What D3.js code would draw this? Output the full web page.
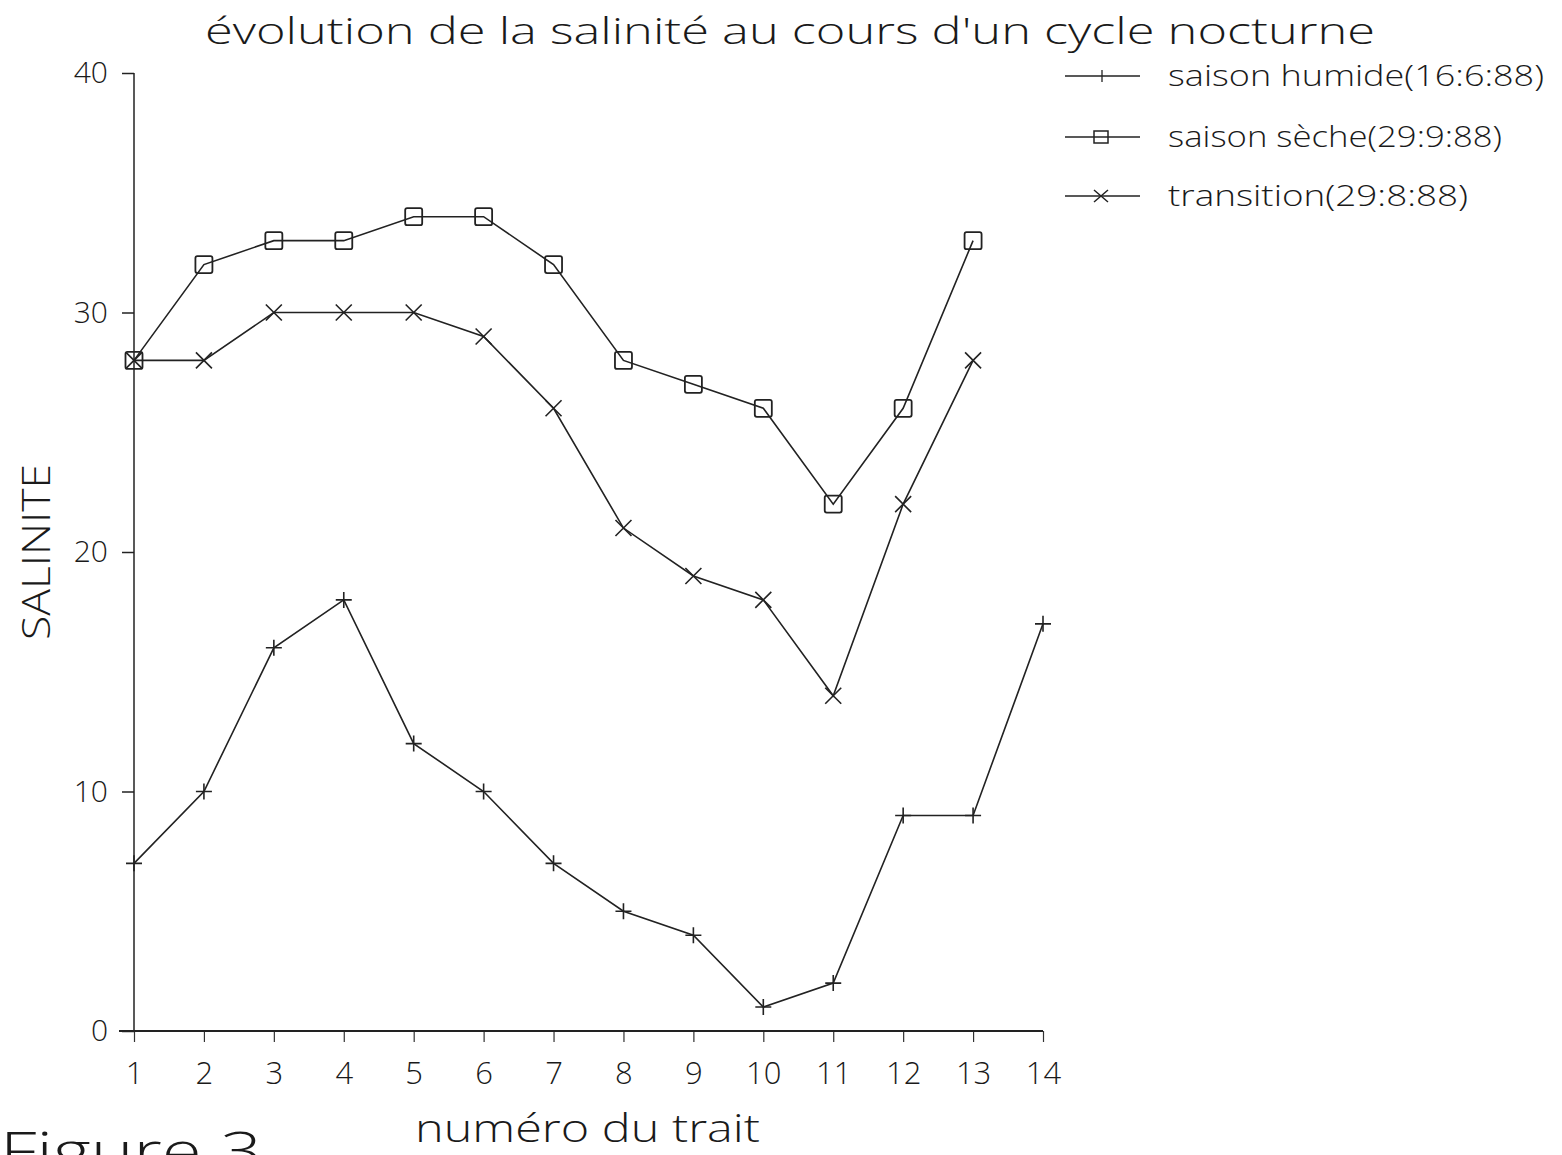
<!DOCTYPE html>
<html>
<head>
<meta charset="utf-8">
<script src="https://cdn.jsdelivr.net/npm/d3@7"></script>
<style>
	body { margin: 0; background: #fff; }
	text { font-family: "Open Sans", "DejaVu Sans", sans-serif; font-weight: 300; fill: #1a1a1a; }
</style>
</head>
<body>
<svg class="chart" width="1562" height="1155"></svg>
<script>
var traits = [1, 2, 3, 4, 5, 6, 7, 8, 9, 10, 11, 12, 13, 14];
var humide = [7, 10, 16, 18, 12, 10, 7, 5, 4, 1, 2, 9, 9, 17];
var seche = [28, 32, 33, 33, 34, 34, 32, 28, 27, 26, 22, 26, 33];
var transition = [28, 28, 30, 30, 30, 29, 26, 21, 19, 18, 14, 22, 28];
var yTicks = [0, 10, 20, 30, 40];
var seriesNames = ['saison humide(16:6:88)', 'saison sèche(29:9:88)', 'transition(29:8:88)'];

var svg = d3.select('svg.chart');

var x = d3.scaleLinear().domain([1, 14]).range([134, 1043]);
var y = d3.scaleLinear().domain([0, 40]).range([1031, 73]);

// axes
var xAxis = d3.axisBottom(x).tickValues(traits).tickSize(11).tickPadding(20).tickFormat(d3.format('d'));
var yAxis = d3.axisLeft(y).tickValues(yTicks).tickSize(12).tickPadding(14);

var gx = svg.append('g').attr('transform', 'translate(0,' + y(0) + ')').call(xAxis);
gx.select('.domain').remove();
gx.append('line').attr('x1', 119).attr('x2', x(14)).attr('stroke', '#222').attr('stroke-width', 2);
gx.selectAll('.tick line').attr('stroke', '#333').attr('stroke-width', 1.2);
gx.selectAll('.tick text').attr('font-size', 31).style('fill', '#1a1a1a');

var gy = svg.append('g').attr('transform', 'translate(' + x(1) + ',0)').call(yAxis);
gy.select('.domain').remove();
gy.append('line').attr('y1', y(40)).attr('y2', y(0)).attr('stroke', '#222').attr('stroke-width', 1.5);
gy.selectAll('.tick line').attr('stroke', '#222').attr('stroke-width', 1.5);
gy.selectAll('.tick text').attr('font-size', 30).style('fill', '#1a1a1a');

// lines
var line = d3.line()
	.x(function(d, i) { return x(traits[i]); })
	.y(function(d) { return y(d); });

[humide, seche, transition].forEach(function(s) {
	svg.append('path').datum(s)
		.attr('d', line)
		.attr('fill', 'none')
		.attr('stroke', '#222')
		.attr('stroke-width', 1.6);
});

// markers
function plusMark(g, cx, cy) {
	g.append('path').attr('d', 'M' + (cx - 8) + ',' + cy + 'H' + (cx + 8) + 'M' + cx + ',' + (cy - 8) + 'V' + (cy + 8))
		.attr('stroke', '#222').attr('stroke-width', 1.6).attr('fill', 'none');
}
function squareMark(g, cx, cy) {
	g.append('rect').attr('x', cx - 8.5).attr('y', cy - 8.5).attr('width', 17).attr('height', 17).attr('rx', 2)
		.attr('stroke', '#222').attr('stroke-width', 1.8).attr('fill', 'none');
}
function crossMark(g, cx, cy) {
	g.append('path').attr('d', 'M' + (cx - 8) + ',' + (cy - 8) + 'L' + (cx + 8) + ',' + (cy + 8) + 'M' + (cx - 8) + ',' + (cy + 8) + 'L' + (cx + 8) + ',' + (cy - 8))
		.attr('stroke', '#222').attr('stroke-width', 1.6).attr('fill', 'none');
}

var marks = svg.append('g');
humide.forEach(function(d, i) { plusMark(marks, x(traits[i]), y(d)); });
seche.forEach(function(d, i) { squareMark(marks, x(traits[i]), y(d)); });
transition.forEach(function(d, i) { crossMark(marks, x(traits[i]), y(d)); });

// legend
var legendY = [76, 137, 196];
var legendW = [376, 334, 300];
seriesNames.forEach(function(name, i) {
	var lg = svg.append('g');
	lg.append('line').attr('x1', 1065).attr('x2', 1140).attr('y1', legendY[i]).attr('y2', legendY[i])
		.attr('stroke', '#222').attr('stroke-width', 1.6);
	if (i === 0) {
		lg.append('line').attr('x1', 1102).attr('x2', 1102).attr('y1', legendY[i] - 6).attr('y2', legendY[i] + 6)
			.attr('stroke', '#222').attr('stroke-width', 1.3);
	} else if (i === 1) {
		lg.append('rect').attr('x', 1094).attr('y', legendY[i] - 6).attr('width', 14).attr('height', 12)
			.attr('stroke', '#222').attr('stroke-width', 1.5).attr('fill', 'none');
	} else {
		lg.append('path').attr('d', 'M1094,' + (legendY[i] - 6) + 'L1108,' + (legendY[i] + 6) + 'M1094,' + (legendY[i] + 6) + 'L1108,' + (legendY[i] - 6))
			.attr('stroke', '#222').attr('stroke-width', 1.5);
	}
	lg.append('text').attr('x', 1168).attr('y', legendY[i] + 10)
		.attr('font-size', 30).attr('textLength', legendW[i]).attr('lengthAdjust', 'spacingAndGlyphs')
		.text(name);
});

// titles
svg.append('text').attr('x', 205).attr('y', 44).attr('font-size', 36).attr('textLength', 1170)
	.attr('lengthAdjust', 'spacingAndGlyphs')
	.text("évolution de la salinité au cours d'un cycle nocturne");
svg.append('text').attr('transform', 'translate(50,552) rotate(-90)').attr('text-anchor', 'middle')
	.attr('font-size', 38).attr('textLength', 176).attr('lengthAdjust', 'spacingAndGlyphs').text('SALINITE');
svg.append('text').attr('x', 415).attr('y', 1142).attr('font-size', 38).attr('textLength', 345)
	.attr('lengthAdjust', 'spacingAndGlyphs').text('numéro du trait');
svg.append('text').attr('x', 0).attr('y', 1170).attr('font-size', 54).attr('textLength', 262)
	.attr('lengthAdjust', 'spacingAndGlyphs').text('Figure  3');
</script>
</body>
</html>
